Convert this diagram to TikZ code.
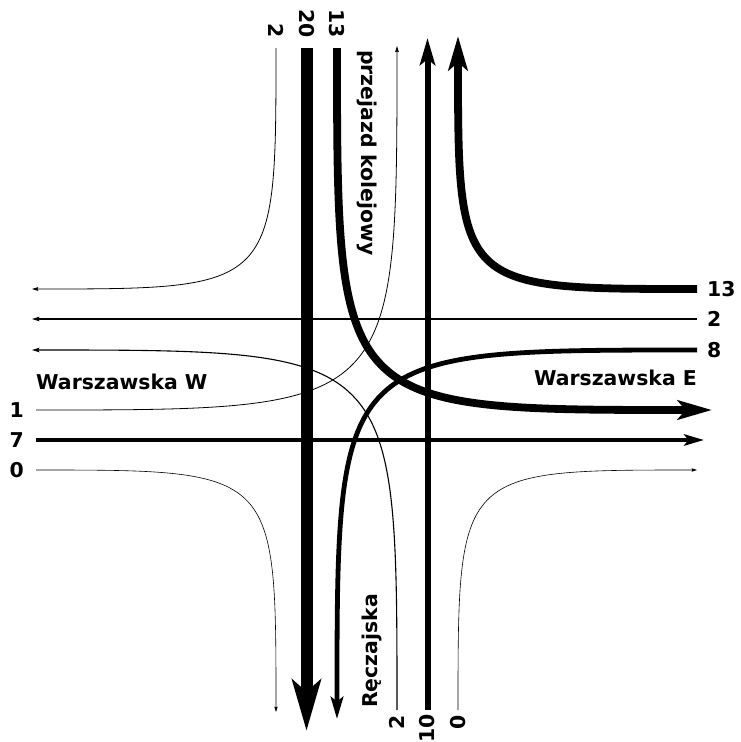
\documentclass[tikz,border=0pt]{standalone}
\usepackage{fontspec}
\setmainfont{DejaVu Sans}
\usetikzlibrary{arrows.meta}
\begin{document}
\begin{tikzpicture}[x=1pt,y=-1pt,
  lbl/.style={font=\bfseries\fontsize{20.4}{24}\selectfont, inner sep=0pt},
  flow/.style={line width=#1, -{Stealth[length=3pt 4, width=2pt 2.2, inset=0pt 1]}},
  ]
\useasboundingbox (0,0) rectangle (741,742);
% entry and exit points
\coordinate (n2)  at (276,48);
\coordinate (n20) at (306.5,48);
\coordinate (n13) at (337,48);
\coordinate (t1)  at (397,46);
\coordinate (t10) at (427.5,38);
\coordinate (t13) at (458,36);
\coordinate (e13) at (697,289);
\coordinate (e2)  at (697,319);
\coordinate (e8)  at (697,350);
\coordinate (r13) at (712,410);
\coordinate (r7)  at (704,440);
\coordinate (r0)  at (697,470);
\coordinate (w1)  at (36,410);
\coordinate (w7)  at (36,440);
\coordinate (w0)  at (36,470);
\coordinate (l2a) at (32,289);
\coordinate (l2b) at (32,319);
\coordinate (l2c) at (32,350);
\coordinate (s2)  at (397,710);
\coordinate (s10) at (427.5,710);
\coordinate (s0)  at (458,710);
\coordinate (b0)  at (276,712);
\coordinate (b20) at (306.5,731);
\coordinate (b8)  at (337,719);
% north
\draw[flow=0.8pt] (n2) .. controls (n2 |- l2a) .. (l2a);
\draw[flow=12pt] (n20) -- (b20);
\draw[flow=7.8pt] (n13) .. controls (n13 |- r13) .. (r13);
% east
\draw[flow=7.8pt] (e13) .. controls (t13 |- e13) .. (t13);
\draw[flow=1.1pt] (e2) -- (l2b);
\draw[flow=4.8pt] (e8) .. controls (b8 |- e8) .. (b8);
% west
\draw[flow=0.8pt] (w1) .. controls (t1 |- w1) .. (t1);
\draw[flow=4.2pt] (w7) -- (r7);
\draw[flow=0.6pt] (w0) .. controls (b0 |- w0) .. (b0);
% south
\draw[flow=1.1pt] (s2) .. controls (s2 |- l2c) .. (l2c);
\draw[flow=6pt] (s10) -- (t10);
\draw[flow=0.6pt] (s0) .. controls (s0 |- r0) .. (r0);
% labels
\node[lbl, rotate=-90, anchor=east] (ln2) at (276,38) {2};
\node[lbl, rotate=-90, anchor=east] (ln20) at (306.5,38) {20};
\node[lbl, rotate=-90, anchor=east] (ln13) at (337,38) {13};
\node[lbl, rotate=90, anchor=east] (ls2) at (397,715) {2};
\node[lbl, rotate=90, anchor=east] (ls10) at (427.5,714) {10};
\node[lbl, rotate=90, anchor=east] (ls0) at (458,715) {0};
\node[lbl, anchor=west] (le13) at (707,289) {13};
\node[lbl, anchor=west] (le2) at (707,319) {2};
\node[lbl, anchor=west] (le8) at (707,350) {8};
\node[lbl, anchor=east] (lw1) at (24,410) {1};
\node[lbl, anchor=east] (lw7) at (24,440) {7};
\node[lbl, anchor=east] (lw0) at (24,470) {0};
\node[lbl, anchor=west] (ww) at (36,382) {Warszawska W};
\node[lbl, anchor=east] (we) at (697,378) {Warszawska E};
\node[lbl, rotate=-90, anchor=west] (pk) at (367,50) {przejazd kolejowy};
\node[lbl, rotate=90, anchor=west] (rc) at (372,708) {Ręczajska};
\end{tikzpicture}
\end{document}
